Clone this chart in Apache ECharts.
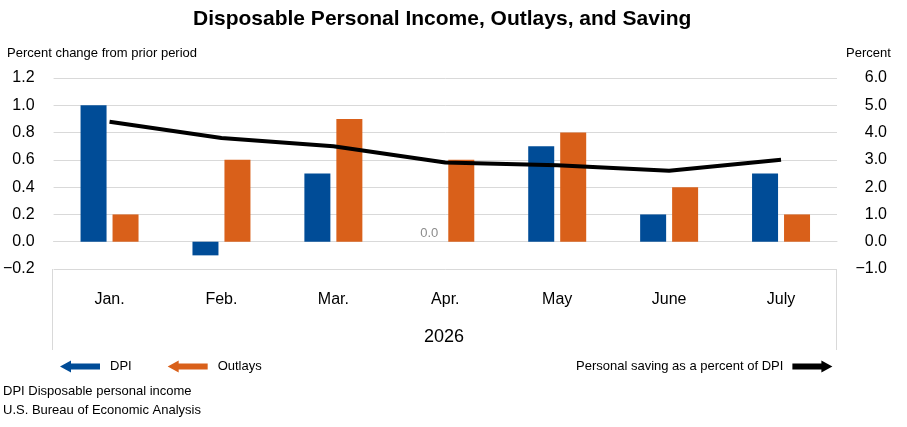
<!DOCTYPE html>
<html>
<head>
<meta charset="utf-8">
<script src="https://cdn.jsdelivr.net/npm/echarts@6/dist/echarts.min.js"></script>
<style>
html,body{margin:0;padding:0;background:#fff;}
#c{width:907px;height:427px;}
</style>
</head>
<body>
<div id="c"></div>
<script>
var categories = ['Jan.', 'Feb.', 'Mar.', 'Apr.', 'May', 'June', 'July'];
var dpi = [1.0, -0.1, 0.5, 0.0, 0.7, 0.2, 0.5];
var outlays = [0.2, 0.6, 0.9, 0.6, 0.8, 0.4, 0.2];
var saving = [4.4, 3.8, 3.5, 2.9, 2.8, 2.6, 3.0];
var leftTicks = {min: -0.2, max: 1.2, interval: 0.2};
var rightTicks = {min: -1, max: 6, interval: 1};
var yearLabel = '2026';

var FONT = 'Liberation Sans';
var BLUE = '#004C97', ORANGE = '#D9601A';
function fmt(v, d) { var s = Math.abs(v).toFixed(d); return (v < 0 ? '\u2212' : '') + s; }

var chart = echarts.init(document.getElementById('c'));
var leftArrow = 'path://M0,6 L11,0 L11,3 L40,3 L40,9 L11,9 L11,12 Z';
var rightArrow = 'path://M40,6 L29,0 L29,3 L0,3 L0,9 L29,9 L29,12 Z';

chart.setOption({
  animation: false,
  textStyle: {fontFamily: FONT},
  title: {
    text: 'Disposable Personal Income, Outlays, and Saving',
    left: 188, top: 4,
    textStyle: {fontFamily: FONT, fontSize: 21, fontWeight: 'bold', color: '#000'}
  },
  grid: {left: 52, right: 70, top: 78, bottom: 158, containLabel: false},
  legend: [{
    data: ['DPI', 'Outlays'],
    left: 55, top: 355,
    itemWidth: 40, itemHeight: 12, itemGap: 36,
    icon: leftArrow,
    itemStyle: {borderWidth: 0},
    textStyle: {fontFamily: FONT, fontSize: 13, color: '#000', padding: [0, 0, 0, 5]},
    selectedMode: false
  }, {
    data: [{name: 'Personal saving as a percent of DPI', icon: rightArrow}],
    left: 571, top: 355,
    align: 'right',
    itemWidth: 40, itemHeight: 12,
    itemStyle: {borderWidth: 0, color: '#000'},
    textStyle: {fontFamily: FONT, fontSize: 13, color: '#000', padding: [0, 4, 0, 0]},
    selectedMode: false
  }],
  xAxis: {
    type: 'category',
    data: categories,
    axisLine: {show: true, lineStyle: {color: '#d9d9d9'}},
    axisTick: {show: false},
    axisLabel: {fontFamily: FONT, fontSize: 16, color: '#000', margin: 23}
  },
  yAxis: [{
    type: 'value',
    min: leftTicks.min, max: leftTicks.max, interval: leftTicks.interval,
    axisLine: {show: false}, axisTick: {show: false},
    splitLine: {lineStyle: {color: '#d9d9d9', width: 1}},
    axisLabel: {fontFamily: FONT, fontSize: 16, color: '#000', margin: 19,
      formatter: function (v) { return fmt(v, 1); }}
  }, {
    type: 'value',
    min: rightTicks.min, max: rightTicks.max, interval: rightTicks.interval,
    position: 'right',
    axisLine: {show: false}, axisTick: {show: false},
    splitLine: {show: false},
    axisLabel: {fontFamily: FONT, fontSize: 16, color: '#000', margin: 50, align: 'right',
      formatter: function (v) { return fmt(v, 1); }}
  }],
  series: [{
    name: 'DPI', type: 'bar',
    barWidth: 26, barGap: '23%',
    itemStyle: {color: BLUE},
    data: dpi.map(function (v) {
      return v === 0 ? {value: v, label: {show: true, position: 'top', distance: 2,
        color: '#8c8c8c', fontSize: 13, fontFamily: FONT,
        formatter: function (p) { return fmt(p.value, 1); }}} : v;
    })
  }, {
    name: 'Outlays', type: 'bar',
    barWidth: 26,
    itemStyle: {color: ORANGE},
    data: outlays
  }, {
    name: 'Personal saving as a percent of DPI', type: 'line',
    yAxisIndex: 1,
    symbol: 'none',
    lineStyle: {color: '#000', width: 4},
    itemStyle: {color: '#000'},
    data: saving
  }],
  graphic: [
    {type: 'text', left: 7, top: 47, style: {text: 'Percent change from prior period', font: '13px "' + FONT + '"', fill: '#000'}},
    {type: 'text', left: 846, top: 47, style: {text: 'Percent', font: '13px "' + FONT + '"', fill: '#000'}},
    {type: 'text', x: 444, y: 337, style: {text: yearLabel, font: '18px "' + FONT + '"', fill: '#000', align: 'center', verticalAlign: 'middle'}},
    {type: 'line', shape: {x1: 52.5, y1: 269, x2: 52.5, y2: 350}, style: {stroke: '#d9d9d9', lineWidth: 1}},
    {type: 'line', shape: {x1: 836.5, y1: 269, x2: 836.5, y2: 350}, style: {stroke: '#d9d9d9', lineWidth: 1}},
    {type: 'text', left: 3, top: 385, style: {text: 'DPI Disposable personal income', font: '13px "' + FONT + '"', fill: '#000'}},
    {type: 'text', left: 3, top: 404, style: {text: 'U.S. Bureau of Economic Analysis', font: '13px "' + FONT + '"', fill: '#000'}}
  ]
});
</script>
</body>
</html>
